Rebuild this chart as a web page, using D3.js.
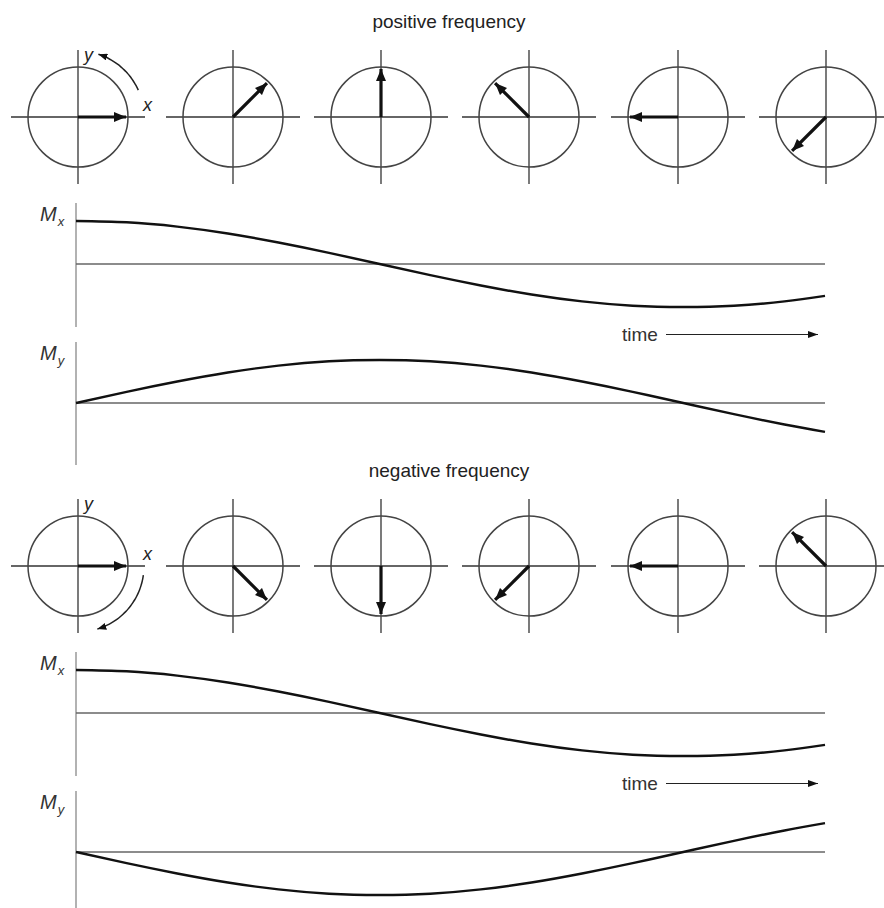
<!DOCTYPE html>
<html>
<head>
<meta charset="utf-8">
<script src="https://cdn.jsdelivr.net/npm/d3@7"></script>
<style>
  html, body { margin: 0; padding: 0; background: #fff; }
  svg { display: block; font-family: "Liberation Sans", Arial, Helvetica, sans-serif; }
</style>
</head>
<body>
<svg id="chart" width="884" height="908"></svg>
<script>
// ---------------- data ----------------
const sectionTitles = ["positive frequency", "negative frequency"];
// phase of magnetisation vector in each snapshot (degrees, counter-clockwise from x)
const positiveAngles = [0, 45, 90, 135, 180, 225];
const negativeAngles = [0, -45, -90, -135, -180, -225];
// time axis sampled in degrees of precession
const timeDeg = [0, 15, 30, 45, 60, 75, 90, 105, 120, 135, 150, 165, 180, 195, 210, 222];
// (normalised to the amplitude)
const mxValues = [1, 0.97, 0.87, 0.71, 0.5, 0.26, 0, -0.26, -0.5, -0.71, -0.87, -0.97, -1, -0.97, -0.87, -0.74];
const myPositive = [0, 0.26, 0.5, 0.71, 0.87, 0.97, 1, 0.97, 0.87, 0.71, 0.5, 0.26, 0, -0.26, -0.5, -0.67];
const myNegative = [0, -0.26, -0.5, -0.71, -0.87, -0.97, -1, -0.97, -0.87, -0.71, -0.5, -0.26, 0, 0.26, 0.5, 0.67];
const axisLabels = ["x", "y"];
const timeLabel = "time";

// ---------------- layout ----------------
const snapCentersX = [78, 233, 381, 529, 678, 826];

// ---------------- drawing ----------------
const svg = d3.select("#chart");
const defs = svg.append("defs");

function marker(id, len, wid) {
  defs.append("marker")
    .attr("id", id)
    .attr("viewBox", `0 ${-wid / 2} ${len} ${wid}`)
    .attr("refX", len).attr("refY", 0)
    .attr("markerUnits", "userSpaceOnUse")
    .attr("markerWidth", len).attr("markerHeight", wid)
    .attr("orient", "auto")
    .append("path")
    .attr("d", `M0,${-wid / 2}L${len},0L0,${wid / 2}Z`)
    .attr("fill", "#111");
}
marker("vecHead", 12, 10);
marker("thinHead", 10, 7);
marker("rotHead", 9, 7);

const xTime = d3.scaleLinear().domain([0, 222]).range([76, 825]);
const xSnap = d3.scaleOrdinal().domain(d3.range(positiveAngles.length)).range(snapCentersX);
const rScale = d3.scaleLinear().domain([0, 1]).range([0, 50]);
const vecScale = d3.scaleLinear().domain([0, 1]).range([0, 48]);

const sections = [
  { title: sectionTitles[0], angles: positiveAngles, my: myPositive, dir: 1, off: 0 },
  { title: sectionTitles[1], angles: negativeAngles, my: myNegative, dir: -1, off: 449 }
];

sections.forEach(sec => {
  const g = svg.append("g").attr("transform", `translate(0,${sec.off})`);

  // title
  g.append("text")
    .attr("x", 449).attr("y", 28)
    .attr("text-anchor", "middle")
    .attr("font-size", 19)
    .attr("fill", "#222")
    .text(sec.title);

  const cy = 117;
  const half = 67;
  sec.angles.forEach((a, i) => {
    const cx = xSnap(i);
    const sg = g.append("g").attr("transform", `translate(${cx},${cy})`);
    sg.append("line").attr("x1", -half).attr("x2", half).attr("y1", 0).attr("y2", 0)
      .attr("stroke", "#333").attr("stroke-width", 1.3);
    sg.append("line").attr("x1", 0).attr("x2", 0).attr("y1", -half).attr("y2", half)
      .attr("stroke", "#333").attr("stroke-width", 1.3);
    sg.append("circle").attr("r", rScale(1))
      .attr("fill", "none").attr("stroke", "#444").attr("stroke-width", 1.5);
    const rad = a * Math.PI / 180;
    sg.append("line")
      .attr("x1", 0).attr("y1", 0)
      .attr("x2", vecScale(Math.cos(rad))).attr("y2", -vecScale(Math.sin(rad)))
      .attr("stroke", "#111").attr("stroke-width", 3.2)
      .attr("marker-end", "url(#vecHead)");
  });

  // axis labels and rotation arrow on first snapshot
  const cx0 = xSnap(0);
  g.append("text").attr("x", cx0 + 65).attr("y", cy - 6)
    .attr("font-size", 18).attr("font-style", "italic").attr("fill", "#222")
    .text(axisLabels[0]);
  g.append("text").attr("x", cx0 + 6).attr("y", cy - 56)
    .attr("font-size", 18).attr("font-style", "italic").attr("fill", "#222")
    .text(axisLabels[1]);

  const rr = 66;
  const a0 = sec.dir > 0 ? 24 : -8;
  const a1 = sec.dir > 0 ? 72 : -73;
  const arcPts = d3.range(0, 21).map(k => {
    const a = (a0 + (a1 - a0) * k / 20) * Math.PI / 180;
    return [cx0 + rr * Math.cos(a), cy - rr * Math.sin(a)];
  });
  g.append("path").attr("d", d3.line().curve(d3.curveCardinal)(arcPts))
    .attr("fill", "none").attr("stroke", "#222").attr("stroke-width", 1.5)
    .attr("marker-end", "url(#rotHead)");

  // Mx and My panels
  const panels = [
    { base: 264, top: 203, bottom: 327, vals: mxValues, sub: "x" },
    { base: 403, top: 342, bottom: 465, vals: sec.my, sub: "y" }
  ];
  panels.forEach(p => {
    const y = d3.scaleLinear().domain([-1, 1]).range([p.base + 43, p.base - 43]);
    g.append("line").attr("x1", xTime(0)).attr("x2", xTime(0))
      .attr("y1", p.top).attr("y2", p.bottom)
      .attr("stroke", "#999").attr("stroke-width", 1.5);
    g.append("line").attr("x1", xTime(0)).attr("x2", xTime(222))
      .attr("y1", y(0)).attr("y2", y(0))
      .attr("stroke", "#666").attr("stroke-width", 1.5);
    const line = d3.line().x((d, i) => xTime(timeDeg[i])).y(d => y(d)).curve(d3.curveNatural);
    g.append("path").datum(p.vals).attr("d", line)
      .attr("fill", "none").attr("stroke", "#111").attr("stroke-width", 2.4);
    const t = g.append("text").attr("x", 40).attr("y", p.top + 18)
      .attr("font-size", 20).attr("font-style", "italic").attr("fill", "#333");
    t.append("tspan").text("M");
    t.append("tspan").attr("dx", 1).attr("dy", 5).attr("font-size", 13).text(p.sub);
  });

  // time arrow
  g.append("text").attr("x", 622).attr("y", 341)
    .attr("font-size", 19).attr("fill", "#333").text(timeLabel);
  g.append("line").attr("x1", 666).attr("x2", 818).attr("y1", 334.5).attr("y2", 334.5)
    .attr("stroke", "#222").attr("stroke-width", 1.2)
    .attr("marker-end", "url(#thinHead)");
});
</script>
</body>
</html>
